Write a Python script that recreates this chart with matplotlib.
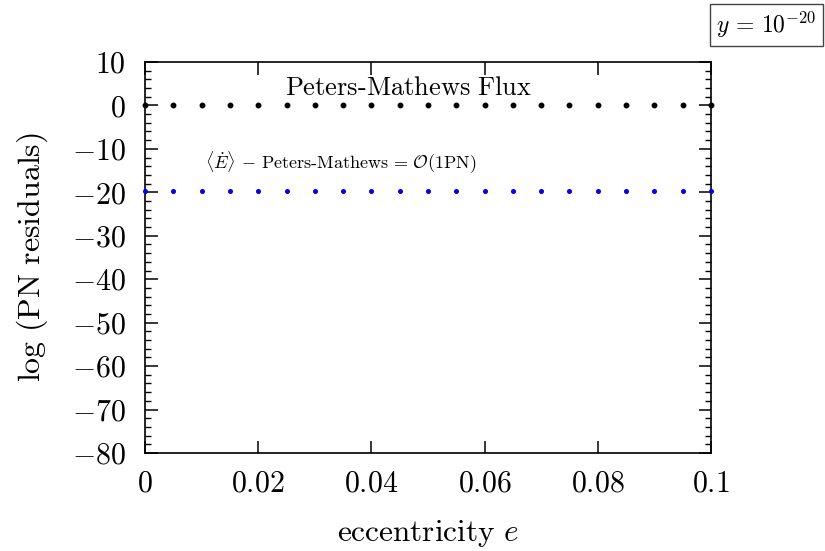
import numpy as np
import matplotlib
matplotlib.use('Agg')
import matplotlib.pyplot as plt
from matplotlib.ticker import MultipleLocator

plt.rcParams['font.family'] = 'serif'
plt.rcParams['font.serif'] = ['cmr10']
plt.rcParams['mathtext.fontset'] = 'cm'
plt.rcParams['axes.formatter.use_mathtext'] = True

# data
ecc = [0.0, 0.005, 0.01, 0.015, 0.02, 0.025, 0.03, 0.035, 0.04, 0.045, 0.05,
       0.055, 0.06, 0.065, 0.07, 0.075, 0.08, 0.085, 0.09, 0.095, 0.1]
pm_flux = [0.0] * 21
residual_1pn = [-19.6] * 21
xticks = [0, 0.02, 0.04, 0.06, 0.08, 0.1]
xticklabels = ['$0$', '$0.02$', '$0.04$', '$0.06$', '$0.08$', '$0.1$']

fig = plt.figure(figsize=(8.25, 5.51), dpi=100)
ax = fig.add_axes([0.1758, 0.1779, 0.686, 0.7096])

ax.plot(ecc, pm_flux, 'o', color='black', markersize=3.2, clip_on=False, zorder=3)
ax.plot(ecc, residual_1pn, 'o', color='#0000ee', markersize=2.6, clip_on=False, zorder=3)

ax.set_xlim(0, 0.1)
ax.set_ylim(-80, 10)
ax.set_xticks(xticks)
ax.set_xticklabels(xticklabels)
ax.yaxis.set_major_locator(MultipleLocator(10))
ax.yaxis.set_minor_locator(MultipleLocator(2))
ax.tick_params(which='both', direction='in', top=True, right=True, labelsize=21.5)
ax.tick_params(axis='x', pad=12)
ax.tick_params(axis='y', pad=14)
ax.tick_params(which='major', length=9, width=1.1)
ax.tick_params(which='minor', length=4.5, width=1.0)
for s in ax.spines.values():
    s.set_linewidth(1.2)

ax.set_xlabel(r'$\mathrm{eccentricity}\ e$', fontsize=22.5, labelpad=15)
ax.set_ylabel(r'$\log\,(\mathrm{PN\ residuals})$', fontsize=23, labelpad=16)

ax.text(0.0466, 4.0, r'$\mathrm{Peters\text{-}Mathews\ Flux}$', fontsize=19, ha='center', va='center')
ax.text(0.0346, -13.2, r'$\langle\dot{E}\rangle\,-\,\mathrm{Peters\text{-}Mathews}\,=\,\mathcal{O}(1\mathrm{PN})$',
        fontsize=13, ha='center', va='center')

fig.text(0.990, 0.982, r'$y\,=\,10^{-20}$', fontsize=17, ha='right', va='top',
         bbox=dict(boxstyle='square,pad=0.25', fc='white', ec='#444444', lw=1.0))

fig.savefig('out.png', dpi=100)
